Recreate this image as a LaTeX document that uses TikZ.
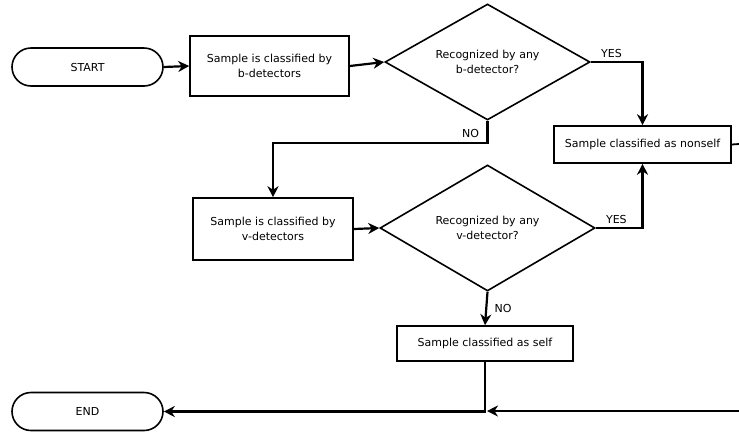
\documentclass[tikz,border=0pt]{standalone}
\usepackage{fontspec}
\setmainfont{DejaVu Sans}
\usetikzlibrary{shapes.geometric,arrows.meta}

\begin{document}
\begin{tikzpicture}[x=1pt,y=-1pt,font=\fontsize{11}{15}\selectfont,
  term/.style={draw,line width=1.6pt,rounded corners=19pt,minimum width=151pt,minimum height=38pt},
  proc/.style={draw,line width=1.6pt,align=center},
  ask/.style={draw,diamond,aspect=1.8,line width=1.6pt,inner sep=0pt,align=center},
  flow/.style={-{Stealth[length=11pt,width=11pt]},line width=2.2pt}]
\useasboundingbox (0,0) rectangle (739,432);
\node[term] (start) at (87.5,67) {START};
\node[proc,minimum width=159pt,minimum height=60pt] (bclass) at (269.5,66) {Sample is classified by\\b-detectors};
\node[ask,minimum width=205pt,minimum height=116pt] (bask) at (487.5,62) {Recognized by any\\b-detector?};
\node[proc,minimum width=177pt,minimum height=37pt] (nonself) at (642.5,144.5) {Sample classified as nonself};
\node[proc,minimum width=160pt,minimum height=62pt] (vclass) at (273,229) {Sample is classified by\\v-detectors};
\node[ask,minimum width=215pt,minimum height=126pt] (vask) at (487.5,228) {Recognized by any\\v-detector?};
\node[proc,minimum width=176pt,minimum height=35pt] (self) at (485,343.5) {Sample classified as self};
\node[term] (end) at (87.5,411.5) {END};
\coordinate (bturn) at (487.5,143);
\coordinate (redge) at (739,144);
\coordinate (bedge) at (739,411);
\coordinate (join) at (485,411);
\draw[flow] (start.east) -- (bclass.west);
\draw[flow] (bclass.east) -- (bask.west);
\draw[flow] (bask.east) -| node[pos=0.2,above] {YES} (nonself.north);
\draw[flow] (bask.south) -- (bturn) node[anchor=south east,xshift=-4pt,yshift=1pt] {NO} -| (vclass.north);
\draw[flow] (vclass.east) -- (vask.west);
\draw[flow] (vask.east) -| node[pos=0.22,above] {YES} (nonself.south);
\draw[flow] (vask.south) -- node[right=4pt] {NO} (self.north);
\draw[line width=1.8pt] (nonself.east) -- (redge);
\draw[flow] (self.south) |- (end.east);
\draw[flow] (bedge) -- ([xshift=2pt]join);
\end{tikzpicture}
\end{document}
